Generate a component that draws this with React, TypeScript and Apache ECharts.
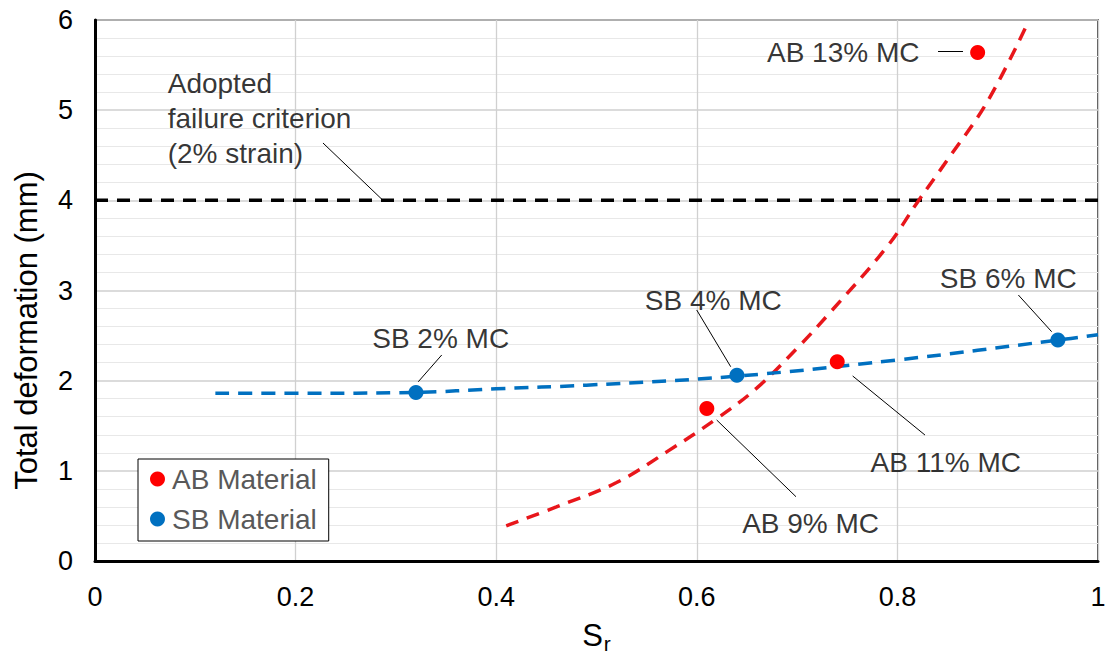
import React, { useEffect, useRef } from "react";
import * as echarts from "echarts";

// Measured points
const AB_X = [0.61, 0.74, 0.88];
const AB_Y = [1.69, 2.21, 5.64];
const SB_X = [0.32, 0.64, 0.96];
const SB_Y = [1.87, 2.06, 2.45];

// Trend lines
const AB_TREND_X = [0.41, 0.46, 0.52, 0.57, 0.62, 0.66, 0.7, 0.73, 0.79, 0.82, 0.85, 0.89, 0.93];
const AB_TREND_Y = [0.39, 0.6, 0.87, 1.21, 1.58, 1.92, 2.36, 2.72, 3.49, 3.98, 4.45, 5.1, 5.97];
const SB_TREND_X = [0.12, 0.2, 0.32, 0.4, 0.49, 0.64, 0.8, 0.96, 1.0];
const SB_TREND_Y = [1.86, 1.86, 1.87, 1.91, 1.95, 2.05, 2.23, 2.45, 2.51];

// Failure criterion
const CRIT_X = [0, 1];
const CRIT_Y = [4, 4];

// Annotations: label text, anchor (data units), side, leader line from/to
const ANN_TEXT = [
  "Adopted\nfailure criterion\n(2% strain)",
  "AB 13% MC",
  "AB 11% MC",
  "AB 9% MC",
  "SB 2% MC",
  "SB 4% MC",
  "SB 6% MC",
];
const ANN_X = [0.072, 0.8225, 0.7727, 0.6447, 0.2759, 0.5477, 0.8418];
const ANN_Y = [4.913, 5.645, 1.087, 0.418, 2.47, 2.894, 3.135];
const ANN_SIDE = ["right", "left", "right", "right", "right", "right", "right"];
const LEAD_X1 = [0.2273, 0.8405, 0.7554, 0.6198, 0.3457, 0.5999, 0.9206];
const LEAD_Y1 = [4.636, 5.656, 2.052, 1.564, 2.285, 2.784, 2.95];
const LEAD_X2 = [0.2871, 0.8654, 0.8275, 0.6989, 0.3223, 0.6338, 0.9538];
const LEAD_Y2 = [4.0, 5.656, 1.397, 0.713, 1.988, 2.155, 2.543];

const X_TICKS = [0, 0.2, 0.4, 0.6, 0.8, 1];

const FONT = "'Liberation Sans', Arial, sans-serif";
const RED_DOT = "#FF0000";
const RED_LINE = "#E8161B";
const BLUE = "#0070C0";

const zip = (xs: number[], ys: number[]) => xs.map((x, i) => [x, ys[i]]);

export default function App() {
  const ref = useRef<HTMLDivElement>(null);
  useEffect(() => {
    if (!ref.current) return;
    const chart = echarts.init(ref.current, null, { renderer: "svg" });
    chart.setOption({
      animation: false,
      backgroundColor: "#fff",
      textStyle: { fontFamily: FONT },
      grid: {
        left: 95,
        right: 7,
        top: 20,
        bottom: 94,
        show: true,
        borderColor: "#1a1a1a",
        borderWidth: 1.5,
        backgroundColor: "transparent",
        containLabel: false,
        outerBoundsMode: "none",
      },
      legend: {
        left: 138,
        top: 459,
        orient: "vertical",
        data: ["AB Material", "SB Material"],
        icon: "circle",
        itemWidth: 15,
        itemHeight: 15,
        itemGap: 10,
        padding: [5, 12, 7, 12],
        backgroundColor: "#fff",
        borderColor: "#000",
        borderWidth: 1,
        borderRadius: 0,
        textStyle: { fontSize: 28, color: "#595959", fontFamily: FONT, lineHeight: 30, padding: [0, 0, 0, 2] },
      },
      xAxis: {
        type: "value",
        min: 0,
        max: 1,
        interval: 0.2,
        name: "{s|S}{r|r}",
        nameLocation: "middle",
        nameGap: 56,
        nameTextStyle: {
          rich: {
            s: { fontSize: 31, color: "#000", fontFamily: FONT, lineHeight: 34 },
            r: { fontSize: 21, color: "#000", fontFamily: FONT, padding: [16, 0, 0, 1] },
          },
        },
        axisLine: { show: true, onZero: false, lineStyle: { color: "#000", width: 3 } },
        axisTick: { show: false },
        axisLabel: {
          fontSize: 27,
          color: "#000",
          margin: 22,
          fontFamily: FONT,
          formatter: (v: number) => {
            const t = X_TICKS.find((k) => Math.abs(k - v) < 1e-9);
            return t === undefined ? "" : String(t);
          },
        },
        splitLine: { show: true, lineStyle: { color: "#d0d0d0", width: 1.3 } },
      },
      yAxis: {
        type: "value",
        min: 0,
        max: 6,
        interval: 1,
        name: "Total deformation (mm)",
        nameLocation: "middle",
        nameGap: 53,
        nameTextStyle: { fontSize: 31, color: "#000", fontFamily: FONT, padding: [0, 80, 0, 0] },
        axisLine: { show: true, onZero: false, lineStyle: { color: "#000", width: 3 } },
        axisTick: { show: false },
        axisLabel: { fontSize: 27, color: "#000", margin: 22, fontFamily: FONT },
        splitLine: { show: true, lineStyle: { color: "#cfcfcf", width: 1.5 } },
        minorTick: { show: false, splitNumber: 5 },
        minorSplitLine: { show: true, lineStyle: { color: "#e8e8e8", width: 1.2 } },
      },
      series: [
        {
          name: "criterion",
          type: "line",
          data: zip(CRIT_X, CRIT_Y),
          showSymbol: false,
          symbol: "none",
          lineStyle: { color: "#000", width: 3.5, type: [13, 9] },
          z: 3,
          silent: true,
        },
        {
          name: "AB trend",
          type: "line",
          data: zip(AB_TREND_X, AB_TREND_Y),
          smooth: 0.4,
          symbol: "none",
          lineStyle: { color: RED_LINE, width: 3.5, type: [13, 9] },
          z: 3,
          silent: true,
        },
        {
          name: "SB trend",
          type: "line",
          data: zip(SB_TREND_X, SB_TREND_Y),
          smooth: 0.4,
          symbol: "none",
          lineStyle: { color: BLUE, width: 3.5, type: [14, 9] },
          z: 3,
          silent: true,
        },
        {
          name: "AB Material",
          type: "scatter",
          data: zip(AB_X, AB_Y),
          symbol: "circle",
          symbolSize: 15,
          itemStyle: { color: RED_DOT, opacity: 1 },
          z: 5,
        },
        {
          name: "SB Material",
          type: "scatter",
          data: zip(SB_X, SB_Y),
          symbol: "circle",
          symbolSize: 15,
          itemStyle: { color: BLUE, opacity: 1 },
          z: 5,
        },
        {
          name: "annotations",
          type: "scatter",
          symbolSize: 1,
          itemStyle: { color: "rgba(0,0,0,0)" },
          silent: true,
          z: 6,
          data: ANN_TEXT.map((t, i) => ({
            value: [ANN_X[i], ANN_Y[i]],
            label: {
              show: true,
              formatter: t,
              position: ANN_SIDE[i],
              distance: 0,
              align: ANN_SIDE[i] === "left" ? "right" : "left",
              verticalAlign: "middle",
              fontSize: 28,
              lineHeight: 35,
              color: "#000",
              fontFamily: FONT,
            },
          })),
          markLine: {
            silent: true,
            symbol: "none",
            label: { show: false },
            lineStyle: { color: "#000", width: 1, type: "solid" },
            data: LEAD_X1.map((x, i) => [
              { coord: [x, LEAD_Y1[i]] },
              { coord: [LEAD_X2[i], LEAD_Y2[i]] },
            ]),
          },
        },
      ],
    });
    return () => chart.dispose();
  }, []);
  return (
    <div
      ref={ref}
      style={{ position: "fixed", left: 0, top: 0, width: 1105, height: 655, background: "#fff" }}
    />
  );
}
